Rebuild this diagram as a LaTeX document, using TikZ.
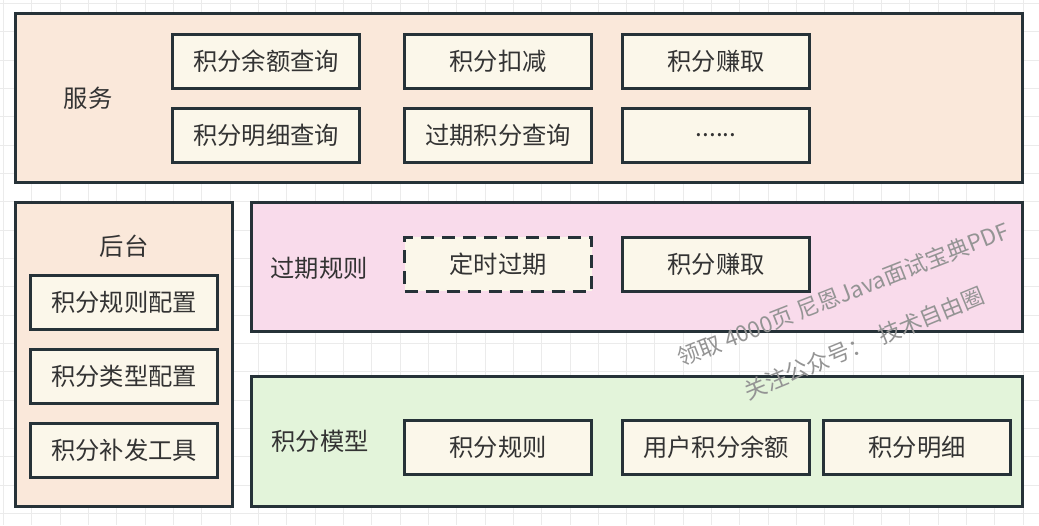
\documentclass[tikz,border=0pt]{standalone}
\usepackage{fontspec}
\setmainfont{Noto Sans CJK SC}
\definecolor{edge}{HTML}{263238}
\definecolor{peach}{HTML}{FAE8DA}
\definecolor{cream}{HTML}{FBF7EA}
\definecolor{pinkbg}{HTML}{F9DBEB}
\definecolor{greenbg}{HTML}{E3F4DA}
\definecolor{txt}{HTML}{333333}
\definecolor{gridc}{HTML}{EBEBEB}
\begin{document}
\begin{tikzpicture}[x=1pt,y=-1pt,
  gridline/.style={draw=gridc,line width=0.8pt},
  group/.style={draw=edge,line width=3pt,inner sep=0pt},
  item/.style={draw=edge,line width=3pt,fill=cream,minimum width=187pt,minimum height=54pt,inner sep=0pt,text=txt,font=\fontsize{24.3}{25}\selectfont},
  dashitem/.style={item,dash pattern=on 13pt off 8pt},
  lbl/.style={text=txt,inner sep=0pt,font=\fontsize{24.3}{25}\selectfont},
  wm/.style={text=black!42,inner sep=0pt,font=\fontsize{22.5}{23}\selectfont}]
\useasboundingbox (0,0) rectangle (1039,525);
\fill[white] (0,0) rectangle (1039,525);
\foreach \i in {0,...,36} \draw[gridline] ({3.3+28.33*\i},0) -- ({3.3+28.33*\i},525);
\foreach \i in {0,...,18} \draw[gridline] (0,{3.3+28.33*\i}) -- (1039,{3.3+28.33*\i});

% containers
\node[group,fill=peach,minimum width=1007pt,minimum height=169pt] (svc) at (519,98) {};
\node[group,fill=peach,minimum width=217pt,minimum height=304pt] (admin) at (124,354.5) {};
\node[group,fill=pinkbg,minimum width=771pt,minimum height=129pt] (exp) at (637,267) {};
\node[group,fill=greenbg,minimum width=771pt,minimum height=130pt] (model) at (637,441.5) {};

% labels
\node[lbl] (svcl) at (88,98) {服务};
\node[lbl] (adminl) at (124,246) {后台};
\node[lbl] (expl) at (319,268) {过期规则};
\node[lbl] (modell) at (320,441) {积分模型};

% service items
\node[item] (s1) at (266,61.5) {积分余额查询};
\node[item] (s2) at (266,135.5) {积分明细查询};
\node[item] (s3) at (498,61.5) {积分扣减};
\node[item] (s4) at (498,135.5) {过期积分查询};
\node[item] (s5) at (716,61.5) {积分赚取};
\node[item] (s6) at (716,135.5) {......};

% admin items
\node[item] (a1) at (124,302.5) {积分规则配置};
\node[item] (a2) at (124,376) {积分类型配置};
\node[item] (a3) at (124,450) {积分补发工具};

% expiry items
\node[dashitem] (e1) at (498,264) {定时过期};
\node[item] (e2) at (716,264) {积分赚取};

% model items
\node[item] (m1) at (498,447) {积分规则};
\node[item] (m2) at (716,447) {用户积分余额};
\node[item] (m3) at (917,447) {积分明细};

% watermark
\node[wm,rotate=21.4] (wm1) at (843,294) {领取 4000页 尼恩Java面试宝典PDF};
\node[wm,rotate=22.4] (wm2) at (864,343) {关注公众号：\ \ 技术自由圈};
\end{tikzpicture}
\end{document}
